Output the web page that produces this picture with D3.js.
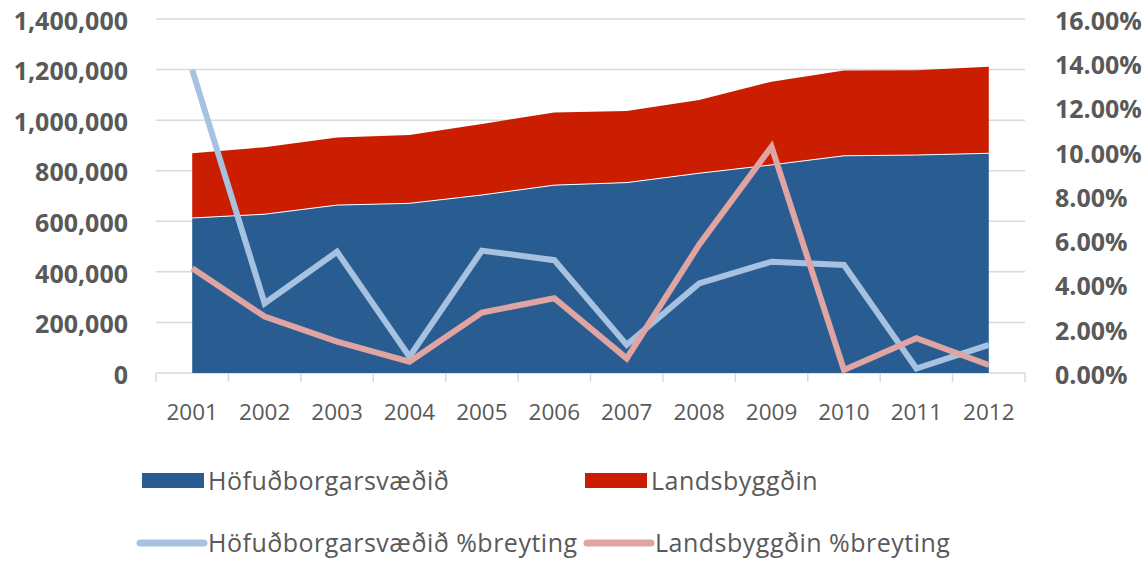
<!DOCTYPE html>
<meta charset="utf-8">
<style>
body { margin: 0; background: #fff; }
text { font-family: "Open Sans", sans-serif; fill: #595959; }
.grid line { stroke: #d9d9d9; stroke-width: 1.5px; }
.line { fill: none; stroke-width: 6px; stroke-linejoin: miter; }
</style>
<body>
<script src="https://d3js.org/d3.v7.min.js"></script>
<script>
// chart data
var years = ["2001","2002","2003","2004","2005","2006","2007","2008","2009","2010","2011","2012"];
var hofud = [613000, 628000, 664000, 671000, 704000, 743000, 753000, 790000, 823000, 859000, 862000, 869000];
var lands = [256000, 265000, 267000, 270000, 281000, 287000, 283000, 290000, 329000, 337000, 335000, 342000];
var hofudPct = [13.7, 3.15, 5.48, 0.74, 5.53, 5.1, 1.27, 4.05, 5.03, 4.88, 0.2, 1.27];
var landsPct = [4.73, 2.55, 1.42, 0.51, 2.73, 3.38, 0.66, 5.8, 10.23, 0.14, 1.57, 0.36];
var leftTicks = [0, 200000, 400000, 600000, 800000, 1000000, 1200000, 1400000];
var rightTicks = [0, 2, 4, 6, 8, 10, 12, 14, 16];
var legendNames = ["Höfuðborgarsvæðið", "Landsbyggðin", "Höfuðborgarsvæðið %breyting", "Landsbyggðin %breyting"];

var colBlue = "#295d91", colRed = "#cb1d00", colLightBlue = "#a7c1e0", colPink = "#e0a4a2";

var W = 1148, H = 562;
var margin = {top: 19, left: 156, right: 123, bottom: 189};
var width = W - margin.left - margin.right,
    height = H - margin.top - margin.bottom;

var svg = d3.select("body").append("svg")
    .attr("width", W)
    .attr("height", H);
var g = svg.append("g")
    .attr("transform", "translate(" + margin.left + "," + margin.top + ")");

var x = d3.scaleBand().domain(years).range([0, width]);
var y = d3.scaleLinear().domain([0, 1400000]).range([height, 0]);
var y2 = d3.scaleLinear().domain([0, 16]).range([height, 0]);
var cx = function(i) { return x(years[i]) + x.bandwidth() / 2; };

// gridlines
g.append("g").attr("class", "grid")
  .selectAll("line").data(leftTicks).enter().append("line")
    .attr("x1", 0).attr("x2", width)
    .attr("y1", function(d) { return y(d); })
    .attr("y2", function(d) { return y(d); });

// category tick marks under the baseline
g.append("g").attr("class", "grid")
  .selectAll("line").data(d3.range(years.length + 1)).enter().append("line")
    .attr("x1", function(i) { return i * x.step(); })
    .attr("x2", function(i) { return i * x.step(); })
    .attr("y1", height).attr("y2", height + 9);

// stacked areas
var stackData = years.map(function(yr, i) { return {hofud: hofud[i], lands: lands[i]}; });
var stacked = d3.stack().keys(["hofud", "lands"])(stackData);
var area = d3.area()
    .x(function(d, i) { return cx(i); })
    .y0(function(d) { return y(d[0]); })
    .y1(function(d) { return y(d[1]); });

g.append("path").datum(stacked[1]).attr("d", area).attr("fill", colRed);
g.append("path").datum(stacked[0]).attr("d", area).attr("fill", colBlue);
g.append("path").datum(stacked[0])
    .attr("d", d3.line().x(function(d, i) { return cx(i); }).y(function(d) { return y(d[1]); }))
    .attr("fill", "none").attr("stroke", "#fff").attr("stroke-width", 1);

// percentage lines on the right axis
var pline = d3.line()
    .x(function(d, i) { return cx(i); })
    .y(function(d) { return y2(d); });
g.append("path").datum(hofudPct).attr("class", "line").attr("stroke", colLightBlue).attr("d", pline);
g.append("path").datum(landsPct).attr("class", "line").attr("stroke", colPink).attr("d", pline);

// left axis labels
var fmt = d3.format(",");
g.append("g").selectAll("text").data(leftTicks).enter().append("text")
    .attr("x", -28).attr("y", function(d) { return y(d) + 2; })
    .attr("dy", "0.35em").attr("text-anchor", "end")
    .style("font-size", "25px").style("font-weight", 700)
    .text(function(d) { return fmt(d); });

// right axis labels
g.append("g").selectAll("text").data(rightTicks).enter().append("text")
    .attr("x", width + 30).attr("y", function(d) { return y2(d) + 2; })
    .attr("dy", "0.35em").attr("text-anchor", "start")
    .style("font-size", "25px").style("font-weight", 700)
    .text(function(d) { return d.toFixed(2) + "%"; });

// x labels
g.append("g").selectAll("text").data(years).enter().append("text")
    .attr("x", function(d, i) { return cx(i); }).attr("y", height + 39)
    .attr("dy", "0.35em").attr("text-anchor", "middle")
    .style("font-size", "22.5px")
    .text(function(d) { return d; });

// legend
var leg = [
  {name: legendNames[0], x: 142, y: 481, type: "rect", color: colBlue},
  {name: legendNames[1], x: 585, y: 481, type: "rect", color: colRed},
  {name: legendNames[2], x: 140, y: 543, type: "line", color: colLightBlue},
  {name: legendNames[3], x: 587, y: 543, type: "line", color: colPink}
];
leg.forEach(function(d) {
  if (d.type == "rect") {
    svg.append("rect").attr("x", d.x).attr("y", d.y - 8).attr("width", 62).attr("height", 15).attr("fill", d.color);
  } else {
    svg.append("line").attr("x1", d.x).attr("x2", d.x + 64).attr("y1", d.y).attr("y2", d.y)
      .attr("stroke", d.color).attr("stroke-width", 7).attr("stroke-linecap", "round");
  }
  svg.append("text").attr("x", d.x + 66 + (d.type == "line" ? 2 : 0)).attr("y", d.y)
    .attr("dy", "0.35em").style("font-size", "25px").style("letter-spacing", "0.5px")
    .text(d.name);
});
</script>
</body>
